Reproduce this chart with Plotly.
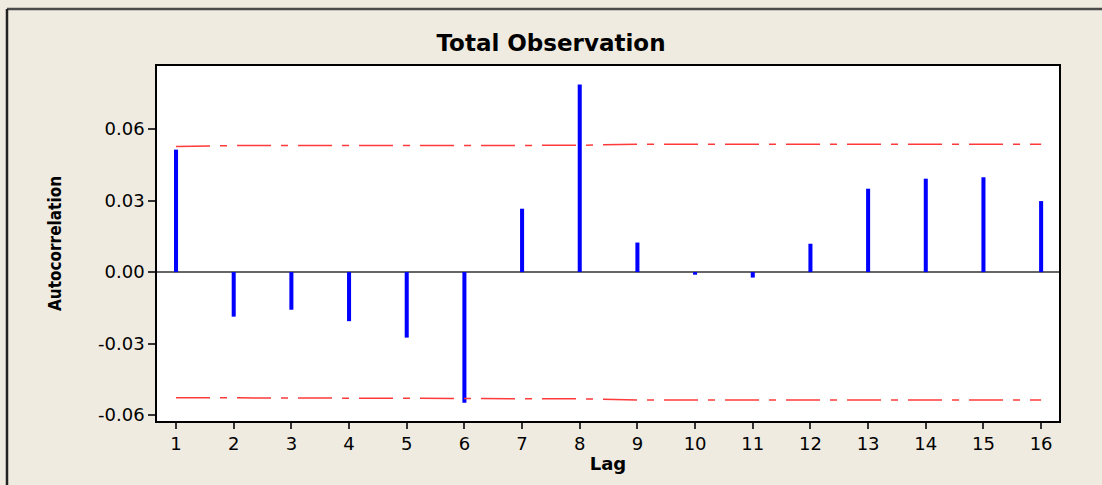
import plotly.graph_objects as go

lags = list(range(1, 17))
acf = [0.0514, -0.0187, -0.0158, -0.0206, -0.0275, -0.0548, 0.0266, 0.0787,
       0.0124, -0.0011, -0.0023, 0.0119, 0.0350, 0.0392, 0.0398, 0.0298]
upper_limit = [0.0527, 0.0531, 0.0531, 0.0531, 0.0532, 0.0532, 0.0532, 0.0532,
               0.0537, 0.0537, 0.0537, 0.0537, 0.0537, 0.0537, 0.0537, 0.0537]
lower_limit = [-0.0527, -0.0528, -0.0528, -0.0528, -0.0532, -0.0532, -0.0532, -0.0532,
               -0.0537, -0.0537, -0.0537, -0.0537, -0.0537, -0.0537, -0.0537, -0.0537]
y_ticks = [-0.06, -0.03, 0.0, 0.03, 0.06]
y_tick_labels = ["-0.06", "-0.03", "0.00", "0.03", "0.06"]

BG = "#efebe1"
RED = "#ff3a3a"
dash = "34px,10px,7px,10px"

fig = go.Figure()
fig.add_trace(go.Scatter(x=lags, y=upper_limit, mode="lines",
                         line=dict(color=RED, width=1.5, dash=dash), hoverinfo="skip"))
fig.add_trace(go.Scatter(x=lags, y=lower_limit, mode="lines",
                         line=dict(color=RED, width=1.5, dash=dash), hoverinfo="skip"))
fig.add_trace(go.Bar(x=lags, y=acf, width=0.07, marker=dict(color="#0000ff", line=dict(width=0))))

fig.update_layout(
    width=1102, height=485,
    margin=dict(l=157, r=43, t=66, b=64),
    paper_bgcolor=BG, plot_bgcolor="white",
    showlegend=False,
    font=dict(family="DejaVu Sans", size=18, color="black"),
    title=dict(text="<b>Total Observation</b>", x=0.5, xanchor="center",
               y=1 - 43 / 485, yanchor="middle",
               font=dict(family="DejaVu Sans", size=23, color="black")),
    xaxis=dict(range=[0.67, 16.31], tickmode="array", tickvals=lags,
               ticks="outside", ticklen=6, tickwidth=1.5, tickcolor="#333",
               tickfont=dict(size=18),
               showline=True, linecolor="black", linewidth=1.5, mirror=True,
               showgrid=False, zeroline=False,
               title=dict(text="<b>Lag</b>", font=dict(family="DejaVu Sans", size=18), standoff=4)),
    yaxis=dict(range=[-0.0625, 0.0865], tickmode="array", tickvals=y_ticks,
               ticktext=y_tick_labels,
               ticks="outside", ticklen=7, tickwidth=1.5, tickcolor="#333",
               tickfont=dict(size=18),
               showline=True, linecolor="black", linewidth=1.5, mirror=True,
               showgrid=False, zeroline=True, zerolinecolor="#666", zerolinewidth=1.5,
               title=dict(text="<b>Autocorrelation</b>",
                          font=dict(family="DejaVu Sans Condensed", size=17), standoff=32)),
)

# outer frame (top and left edges)
fig.add_shape(type="line", xref="paper", yref="paper",
              x0=-0.1663, x1=1.06, y0=1.1606, y1=1.1606,
              line=dict(color="#4a4a4a", width=2.5))
fig.add_shape(type="line", xref="paper", yref="paper",
              x0=-0.1663, x1=-0.1663, y0=1.1606, y1=-0.2,
              line=dict(color="#222", width=2.5))

fig.write_html("out.html")
